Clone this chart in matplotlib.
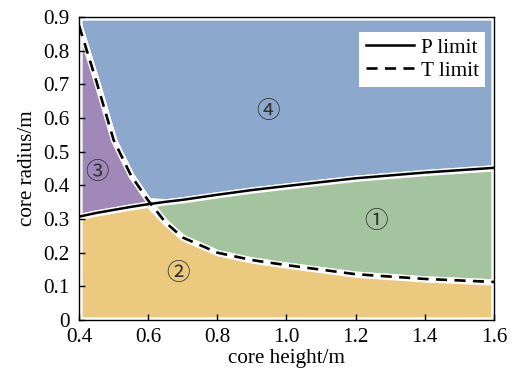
import numpy as np
import matplotlib
matplotlib.use("Agg")
import matplotlib.pyplot as plt

# data
height = [0.40, 0.45, 0.50, 0.55, 0.60, 0.65, 0.70, 0.80, 0.90, 1.00, 1.20, 1.40, 1.60]
p_limit = [0.307, 0.318, 0.327, 0.336, 0.344, 0.351, 0.357, 0.372, 0.386, 0.398, 0.421, 0.438, 0.452]
t_limit = [0.875, 0.710, 0.535, 0.430, 0.355, 0.290, 0.245, 0.200, 0.178, 0.163, 0.136, 0.122, 0.113]

region_labels = ["①", "②", "③", "④"]
region_pos = [(1.258, 0.293), (0.686, 0.138), (0.453, 0.439), (0.946, 0.618)]

x_ticks = [0.4, 0.6, 0.8, 1.0, 1.2, 1.4, 1.6]
y_ticks = [0, 0.1, 0.2, 0.3, 0.4, 0.5, 0.6, 0.7, 0.8, 0.9]
y_tick_labels = ["0", "0.1", "0.2", "0.3", "0.4", "0.5", "0.6", "0.7", "0.8", "0.9"]

plt.rcParams['font.family'] = ['Liberation Serif', 'DejaVu Serif']
fs = 15.2

fig = plt.figure(figsize=(5.17, 3.74), dpi=100)
ax = fig.add_axes([0.1528, 0.1444, 0.8027, 0.8101])

x = np.array(height)
p = np.array(p_limit)
t = np.array(t_limit)
y_top = 0.9

edge = dict(edgecolor='white', linewidth=4.5)
# ④ above both limits
ax.fill_between(x, np.maximum(p, t), y_top, facecolor='#8da8cd', **edge)
# ③ above P, below T
ax.fill_between(x, p, t, where=t >= p, interpolate=True, facecolor='#a089b9', **edge)
# ① below P, above T
ax.fill_between(x, t, p, where=p >= t, interpolate=True, facecolor='#a4c49f', **edge)
# ② below both
ax.fill_between(x, 0, np.minimum(p, t), facecolor='#ebc97f', **edge)

ax.plot(x, p, color='black', lw=1.8, label='P limit', zorder=5)
ax.plot(x, t, color='black', lw=1.9, linestyle=(0, (4.2, 2.8)), label='T limit', zorder=5)

for lab, (px, py) in zip(region_labels, region_pos):
    ax.text(px, py, lab, ha='center', va='center', fontsize=17,
            family=['Noto Sans CJK SC', 'DejaVu Sans'], color='#333333', zorder=6)

ax.set_xlim(0.4, 1.6)
ax.set_ylim(0, 0.9)
ax.set_xticks(x_ticks)
ax.set_xticklabels([f"{v:.1f}" for v in x_ticks])
ax.set_yticks(y_ticks)
ax.set_yticklabels(y_tick_labels)
ax.tick_params(direction='in', length=4, width=1, labelsize=fs)
ax.tick_params(axis='x', pad=5.5)
ax.tick_params(axis='y', pad=6.5)
for s in ax.spines.values():
    s.set_linewidth(1.0)
    s.set_zorder(10)

ax.set_xlabel("core height/m", fontsize=fs, labelpad=2)
ax.set_ylabel("core radius/m", fontsize=fs, labelpad=5)

leg = ax.legend(loc='upper right', bbox_to_anchor=(0.978, 0.952), borderaxespad=0,
                frameon=True, fancybox=False, edgecolor='white', framealpha=1,
                fontsize=fs, handlelength=2.3, handletextpad=0.3,
                labelspacing=0.15, borderpad=0.3)
leg.get_frame().set_linewidth(0)

fig.savefig("out.png", dpi=100)
